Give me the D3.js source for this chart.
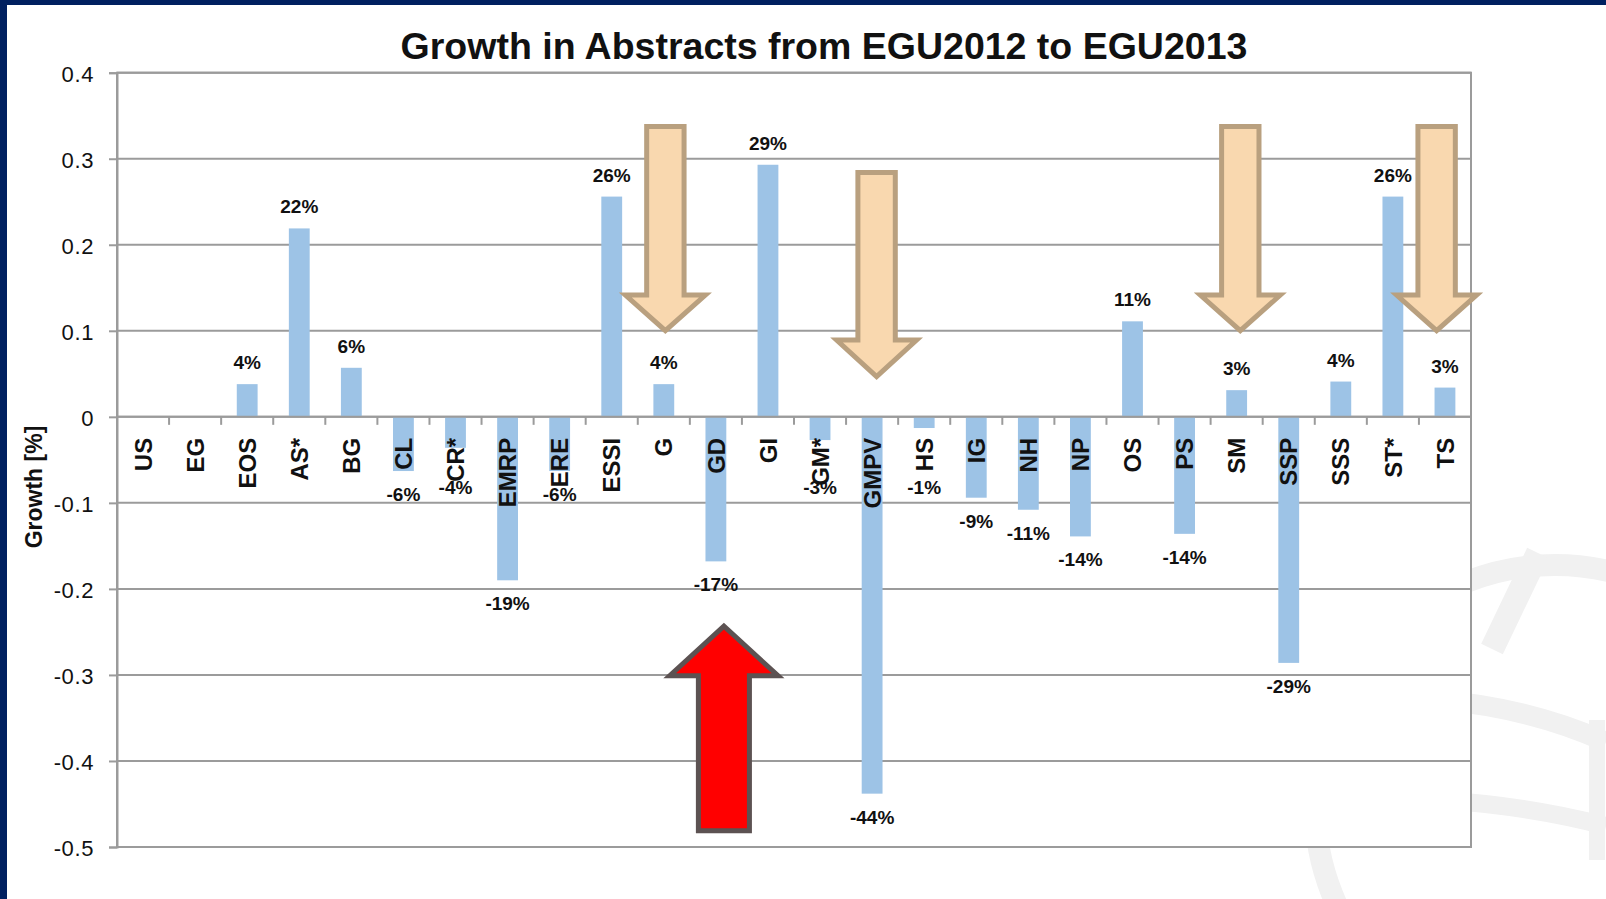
<!DOCTYPE html>
<html><head><meta charset="utf-8">
<script src="https://cdn.jsdelivr.net/npm/d3@7"></script>
<style>
html,body{margin:0;padding:0;background:#fff;overflow:hidden}
svg{display:block;font-family:Arial,"Liberation Sans",Helvetica,sans-serif}
</style>
</head><body>
<svg id="chart" width="1606" height="899"></svg>
<script>
// ---- data ----
const categories = ["US","EG","EOS","AS*","BG","CL","CR*","EMRP","ERE","ESSI","G","GD","GI","GM*","GMPV","HS","IG","NH","NP","OS","PS","SM","SSP","SSS","ST*","TS"];
const growth = [null, null, 0.038, 0.219, 0.057, -0.063, -0.036, -0.190, -0.063, 0.256, 0.038, -0.168, 0.293, -0.027, -0.438, -0.013, -0.094, -0.108, -0.139, 0.111, -0.136, 0.031, -0.286, 0.041, 0.256, 0.034];
const yTickValues = [0.4, 0.3, 0.2, 0.1, 0, -0.1, -0.2, -0.3, -0.4, -0.5];
const chartTitle = "Growth in Abstracts from EGU2012 to EGU2013";
const yAxisTitle = "Growth [%]";
// highlight arrows (annotations, in category / data units)
const downArrowCats = ["G", "GMPV", "SM", "TS"];
const downArrowShift = [0.03, 0.086, 0.07, -0.16];
const downArrowTop = [0.3376, 0.2841, 0.3376, 0.3376];
const downArrowNeck = [0.1415, 0.0892, 0.1415, 0.1415];
const downArrowTip = [0.1002, 0.0467, 0.1002, 0.1002];
const upArrowCats = ["GD"];
const upArrowShift = [0.154];
const upArrowBase = [-0.4811];
const upArrowNeck = [-0.3009];
const upArrowTip = [-0.2434];

// ---- layout ----
const W = 1606, H = 899;
const plot = {left: 117, right: 1471, top: 72.7, bottom: 847};
const gridColor = "#9b9b9b";
const barColor = "#9dc3e6";

const loc = d3.formatLocale({decimal: ".", thousands: ",", grouping: [3], currency: ["$", ""], minus: "-"});
const pct = loc.format(".0%");
const tickFmt = loc.format(".1~f");

const svg = d3.select("#chart");

// watermark (faint logo) behind chart
const wm = svg.append("g").attr("fill", "none").attr("stroke", "#f1f1f1");
wm.append("circle").attr("cx", 1555).attr("cy", 805).attr("r", 240).attr("stroke-width", 22);
wm.append("path").attr("d", "M1440,700 Q1530,708 1606,742").attr("stroke-width", 20);
wm.append("path").attr("d", "M1440,800 Q1530,806 1606,826").attr("stroke-width", 18);
wm.append("path").attr("d", "M1538,553 L1492,649").attr("stroke-width", 24);
wm.append("path").attr("d", "M1597,720 L1597,860").attr("stroke-width", 16);

// navy frame
svg.append("rect").attr("x", 0).attr("y", 0).attr("width", W).attr("height", 5).attr("fill", "#002060");
svg.append("rect").attr("x", 0).attr("y", 0).attr("width", 7).attr("height", H).attr("fill", "#002060");

// scales
const x = d3.scaleBand().domain(categories).range([plot.left, plot.right]).paddingInner(0.6).paddingOuter(0.3);
const y = d3.scaleLinear().domain([-0.5, 0.4]).range([plot.bottom, plot.top]);
const y0 = y(0);
const step = x.step();
const cx = c => x(c) + x.bandwidth() / 2;

// plot area
svg.append("rect").attr("x", plot.left).attr("y", plot.top)
  .attr("width", plot.right - plot.left).attr("height", plot.bottom - plot.top)
  .attr("fill", "#fff").attr("stroke", gridColor).attr("stroke-width", 2);

// gridlines
svg.append("g").selectAll("line").data(yTickValues).join("line")
  .attr("x1", plot.left).attr("x2", plot.right)
  .attr("y1", d => y(d)).attr("y2", d => y(d))
  .attr("stroke", gridColor).attr("stroke-width", 2);

// y axis
const yAxis = svg.append("g").attr("transform", `translate(${plot.left},0)`)
  .call(d3.axisLeft(y).tickValues(yTickValues).tickSize(8).tickPadding(15).tickFormat(tickFmt));
yAxis.select(".domain").attr("stroke", gridColor).attr("stroke-width", 2);
yAxis.selectAll(".tick line").attr("stroke", gridColor).attr("stroke-width", 2);
yAxis.selectAll(".tick text").attr("font-size", 22).attr("fill", "#111").attr("dy", "0.4em")
  .attr("font-family", "Arial, 'Liberation Sans', sans-serif").attr("letter-spacing", "0.6px");

// bars
const data = categories.map((c, i) => ({cat: c, v: growth[i]})).filter(d => d.v !== null);
svg.append("g").selectAll("rect").data(data).join("rect")
  .attr("x", d => x(d.cat)).attr("width", x.bandwidth())
  .attr("y", d => Math.min(y(d.v), y0))
  .attr("height", d => Math.abs(y(d.v) - y0))
  .attr("fill", barColor);

// zero line (category axis) + boundary ticks
svg.append("line").attr("x1", plot.left).attr("x2", plot.right).attr("y1", y0).attr("y2", y0)
  .attr("stroke", gridColor).attr("stroke-width", 2);
svg.append("g").selectAll("line").data(categories.slice(1)).join("line")
  .attr("x1", d => x(d) - step * x.paddingInner() / 2)
  .attr("x2", d => x(d) - step * x.paddingInner() / 2)
  .attr("y1", y0).attr("y2", y0 + 8)
  .attr("stroke", gridColor).attr("stroke-width", 2);

// category labels
const xAxis = svg.append("g").attr("transform", `translate(0,${y0})`)
  .call(d3.axisBottom(x).tickSize(0));
xAxis.select(".domain").remove();
xAxis.selectAll(".tick text")
  .attr("transform", "translate(0,21) rotate(-90)")
  .attr("x", 0).attr("y", 0).attr("dy", "0.36em")
  .attr("text-anchor", "end")
  .attr("font-size", 24).attr("font-weight", "bold").attr("fill", "#111")
  .attr("font-family", "Arial, 'Liberation Sans', sans-serif");

// data labels (negative labels pushed below the category-label zone for short bars)
svg.append("g").selectAll("text").data(data).join("text")
  .attr("x", d => cx(d.cat))
  .attr("y", d => d.v >= 0 ? y(d.v) - 15 : Math.max(y(d.v) + 30, y0 + 77))
  .attr("text-anchor", "middle")
  .attr("font-size", 19).attr("font-weight", "bold").attr("fill", "#111")
  .text(d => pct(d.v));

// title
svg.append("text").attr("x", 824).attr("y", 59).attr("text-anchor", "middle")
  .attr("font-size", 37.5).attr("font-weight", "bold").attr("fill", "#111").text(chartTitle);

// y-axis title
svg.append("text").attr("transform", "translate(34,487) rotate(-90)")
  .attr("dy", "0.36em").attr("text-anchor", "middle")
  .attr("font-size", 23).attr("font-weight", "bold").attr("fill", "#111").text(yAxisTitle);

// arrows
function arrowPath(c, yA, yN, yT, sh, hh) {
  return `M${c - sh},${yA} L${c + sh},${yA} L${c + sh},${yN} L${c + hh},${yN} L${c},${yT} L${c - hh},${yN} L${c - sh},${yN} Z`;
}
const downArrows = downArrowCats.map((c, i) => ({c, s: downArrowShift[i], a: downArrowTop[i], n: downArrowNeck[i], t: downArrowTip[i]}));
svg.append("g").selectAll("path").data(downArrows).join("path")
  .attr("d", d => arrowPath(cx(d.c) + d.s * step, y(d.a), y(d.n), y(d.t), 0.359 * step, 0.768 * step))
  .attr("fill", "#f9d8af").attr("stroke", "#b9a07f").attr("stroke-width", 5).attr("stroke-linejoin", "miter");
const upArrows = upArrowCats.map((c, i) => ({c, s: upArrowShift[i], a: upArrowBase[i], n: upArrowNeck[i], t: upArrowTip[i]}));
svg.append("g").selectAll("path").data(upArrows).join("path")
  .attr("d", d => arrowPath(cx(d.c) + d.s * step, y(d.a), y(d.n), y(d.t), 0.49 * step, 1.04 * step))
  .attr("fill", "#ff0000").attr("stroke", "#5c5252").attr("stroke-width", 5).attr("stroke-linejoin", "miter");
</script>
</body></html>
